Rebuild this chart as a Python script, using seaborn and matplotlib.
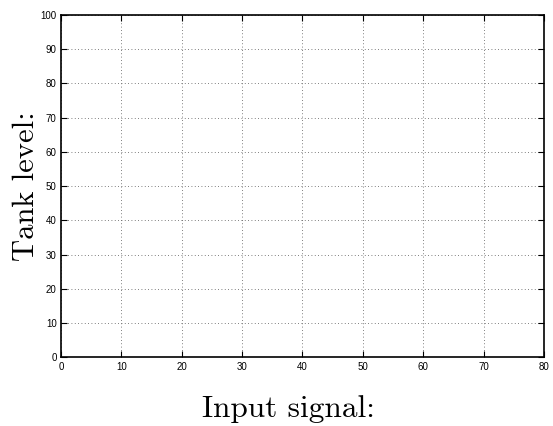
import matplotlib
matplotlib.use("Agg")
import matplotlib.pyplot as plt
import seaborn as sns
import pandas as pd

# Axis ranges and ticks (empty chart, only the frame and grid)
x_ticks = [0, 10, 20, 30, 40, 50, 60, 70, 80]
y_ticks = [0, 10, 20, 30, 40, 50, 60, 70, 80, 90, 100]
x_label = "Input signal:"
y_label = "Tank level:"

sns.set_style("white")
plt.rcParams["font.family"] = ["Liberation Sans", "DejaVu Sans"]

fig = plt.figure(figsize=(5.53, 4.26), dpi=100)
ax = fig.add_axes([0.110, 0.161, 0.874, 0.804])

# empty data frame -> nothing drawn, just the axes
df = pd.DataFrame({"x": pd.Series([], dtype=float), "y": pd.Series([], dtype=float)})
sns.lineplot(data=df, x="x", y="y", ax=ax)

ax.set_xlim(x_ticks[0], x_ticks[-1])
ax.set_ylim(y_ticks[0], y_ticks[-1])
ax.set_xticks(x_ticks)
ax.set_yticks(y_ticks)
ax.tick_params(direction="in", length=4, width=0.8, labelsize=7, colors="black",
               top=True, right=True, bottom=True, left=True, pad=3)
for s in ax.spines.values():
    s.set_visible(True)
    s.set_color("black")
    s.set_linewidth(1.2)

ax.grid(True, linestyle=(0, (1, 3)), color="#555555", linewidth=0.6)

# x label sits a bit left of the axes centre in the original
ax.set_xlabel(x_label, fontfamily="cmr10", fontsize=22.5, color="black", labelpad=17, x=0.47)
ax.set_ylabel(y_label, fontfamily="cmr10", fontsize=22, color="black", labelpad=0.5)

fig.savefig("out.png", dpi=100)
